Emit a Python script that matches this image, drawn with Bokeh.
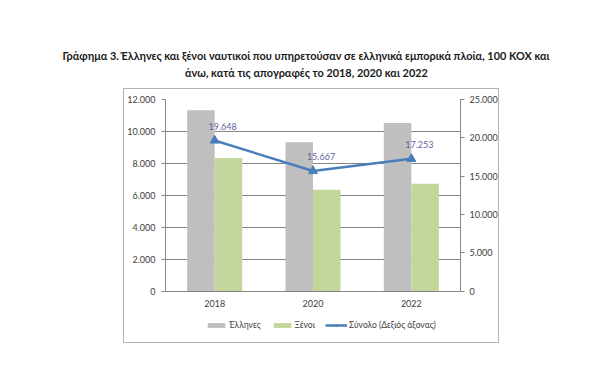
from bokeh.plotting import figure
from bokeh.models import (ColumnDataSource, FactorRange, Range1d, LinearAxis, FixedTicker,
                          CustomJSTickFormatter, Legend, LegendItem, LabelSet, Label, Spacer)
from bokeh.layouts import column, row
from bokeh.transform import dodge
from bokeh.core.properties import value
from bokeh.embed import file_html
from bokeh.resources import INLINE

# ---- data ----
years = ["2018", "2020", "2022"]
greeks = [11320, 9320, 10530]
foreigners = [8328, 6347, 6723]
total = [19648, 15667, 17253]
left_ticks = [0, 2000, 4000, 6000, 8000, 10000, 12000]
right_ticks = [0, 5000, 10000, 15000, 20000, 25000]
title_lines = ["Γράφημα 3. Έλληνες και ξένοι ναυτικοί που υπηρετούσαν σε ελληνικά εμπορικά πλοία, 100 ΚΟΧ και",
               "άνω, κατά τις απογραφές το 2018, 2020 και 2022"]
legend_labels = ["Έλληνες", "Ξένοι", "Σύνολο (Δεξιός άξονας)"]

def fmt(v):
    return f"{v:,}".replace(",", ".")

src = ColumnDataSource(dict(year=years, greeks=greeks, foreigners=foreigners,
                            total=total, total_lbl=[fmt(v) for v in total]))

FONT = "Lato"
GRAY = "#BFBFBF"
GREEN = "#C3D69B"
BLUE = "#4A7EBB"
AXIS = "#868686"
TXT = "#404040"

# ---- title ----
t = figure(width=584, height=88, x_range=Range1d(0, 584), y_range=Range1d(0, 88),
           output_backend="svg", toolbar_location=None, x_axis_type=None, y_axis_type=None,
           min_border=0)
t.outline_line_color = None
t.grid.grid_line_color = None
for txt, yv in zip(title_lines, [33, 15.7]):
    t.add_layout(Label(x=306, y=yv, text=txt, text_align="center", text_baseline="middle",
                       text_font=FONT, text_font_size="10.9px", text_font_style="bold",
                       text_color="#1a1a1a"))

# ---- chart (frame extends below the zero line to hold the legend) ----
below_px = 53.5      # pixels of frame below the zero line
plot_px = 191.5      # pixels from zero to top of axes
p = figure(width=376, height=255, x_range=FactorRange(factors=years),
           y_range=Range1d(-below_px * 12000 / plot_px, 12000), output_backend="svg",
           toolbar_location=None, min_border_left=40, min_border_right=40,
           min_border_top=10, min_border_bottom=0,
           styles={"border": "1px solid #B4B4B4"})
p.extra_y_ranges = {"right": Range1d(-below_px * 25000 / plot_px, 25000)}
p.outline_line_color = None
p.xgrid.grid_line_color = None
p.ygrid.grid_line_color = AXIS
p.ygrid.grid_line_width = 1

fmt_js = CustomJSTickFormatter(code="return Math.round(tick).toString().replace(/\\B(?=(\\d{3})+(?!\\d))/g, '.');")

ya = p.yaxis[0]
ya.ticker = FixedTicker(ticks=left_ticks)
ya.formatter = fmt_js
ya.bounds = (0, 12000)
ya.axis_line_color = AXIS
ya.major_tick_line_color = AXIS
ya.major_tick_out = 4
ya.major_tick_in = 0
ya.minor_tick_line_color = None
ya.major_label_standoff = 6
ya.major_label_text_font = FONT
ya.major_label_text_font_size = "9px"
ya.major_label_text_color = TXT

ra = LinearAxis(y_range_name="right", ticker=FixedTicker(ticks=right_ticks), formatter=fmt_js,
                bounds=(0, 25000))
ra.axis_line_color = AXIS
ra.major_tick_line_color = AXIS
ra.major_tick_out = 4
ra.major_tick_in = 0
ra.minor_tick_line_color = None
ra.major_label_standoff = 5
ra.major_label_text_font = FONT
ra.major_label_text_font_size = "9px"
ra.major_label_text_color = TXT
p.add_layout(ra, "right")

xa = p.xaxis[0]
xa.fixed_location = 0
xa.axis_line_color = AXIS
xa.major_tick_line_color = None
xa.major_tick_out = 0
xa.major_label_standoff = 9
xa.major_label_text_font = FONT
xa.major_label_text_font_size = "9px"
xa.major_label_text_color = TXT

r1 = p.vbar(x=dodge("year", -0.14, range=p.x_range), top="greeks", bottom=0, width=0.28,
            source=src, fill_color=GRAY, line_color=None)
r2 = p.vbar(x=dodge("year", 0.14, range=p.x_range), top="foreigners", bottom=0, width=0.28,
            source=src, fill_color=GREEN, line_color=None)
r3 = p.line(x="year", y="total", source=src, y_range_name="right", line_color=BLUE, line_width=2.5)
r4 = p.scatter(x="year", y="total", source=src, y_range_name="right", marker="triangle",
               size=9, fill_color=BLUE, line_color=BLUE)

lbls = LabelSet(x="year", y="total", text="total_lbl", source=src, y_range_name="right",
                x_offset=8, y_offset=14, text_align="center", text_baseline="middle",
                text_font=value(FONT), text_font_size="9px", text_color="#5F5F9F")
p.add_layout(lbls)

legend = Legend(items=[LegendItem(label=legend_labels[0], renderers=[r1]),
                       LegendItem(label=legend_labels[1], renderers=[r2]),
                       LegendItem(label=legend_labels[2], renderers=[r3, r4])],
                location=(40, 14), orientation="horizontal", glyph_width=22, glyph_height=6,
                label_height=6, label_standoff=2, spacing=10, padding=0, margin=0,
                border_line_color=None, background_fill_alpha=0,
                label_text_font=FONT, label_text_font_size="8.5px", label_text_color=TXT)
p.add_layout(legend)

layout = column(t, row(Spacer(width=123, height=255), p))
open("out.html", "w").write(file_html(layout, INLINE))
